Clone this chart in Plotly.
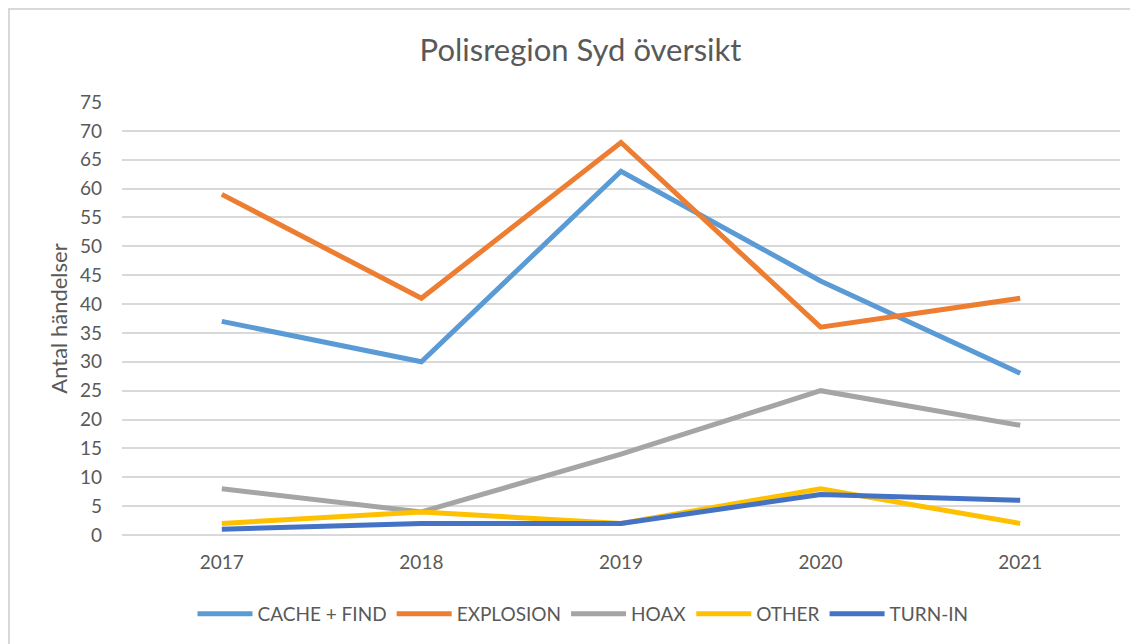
import plotly.graph_objects as go

years = ["2017", "2018", "2019", "2020", "2021"]
cache_find = [37, 30, 63, 44, 28]
explosion = [59, 41, 68, 36, 41]
hoax = [8, 4, 14, 25, 19]
other = [2, 4, 2, 8, 2]
turn_in = [1, 2, 2, 7, 6]

series = [
    ("CACHE + FIND", cache_find, "#5B9BD5"),
    ("EXPLOSION", explosion, "#ED7D31"),
    ("HOAX", hoax, "#A5A5A5"),
    ("OTHER", other, "#FFC000"),
    ("TURN-IN", turn_in, "#4472C4"),
]

fig = go.Figure()
for name, vals, col in series:
    fig.add_trace(go.Scatter(x=years, y=vals, name=name, mode="lines",
                             line=dict(color=col, width=5)))

font_family = "Lato, Open Sans, sans-serif"
W, H = 1138, 644
L, R, T, B = 114, 26, 94, 117
pw, ph = W - L - R, H - T - B
fig.update_layout(
    width=W, height=H,
    paper_bgcolor="white", plot_bgcolor="white",
    margin=dict(l=L, r=R, t=T, b=B, autoexpand=False),
    font=dict(family=font_family, color="#595959", size=19),
    title=dict(text="Polisregion Syd översikt", x=572.5 / W, xanchor="center",
               y=1 - 42 / H, yanchor="middle",
               font=dict(size=31, color="#595959", family=font_family)),
    xaxis=dict(type="category", range=[-0.5, 4.5], showgrid=False,
               showline=False, zeroline=False, ticks="", automargin=False,
               tickfont=dict(size=19, color="#595959"), ticklabelstandoff=14),
    yaxis=dict(range=[0, 75], dtick=5, tick0=0, showgrid=True,
               gridcolor="#D9D9D9", gridwidth=1.5, zeroline=True,
               zerolinecolor="#D9D9D9", zerolinewidth=1.5, showline=False,
               ticks="", tickfont=dict(size=19, color="#595959"),
               ticklabelstandoff=19, automargin=False,
               title=dict(text="Antal händelser", font=dict(size=22, color="#595959"),
                          standoff=6)),
    legend=dict(orientation="h", x=(575 - L) / pw, xanchor="center",
                yref="container", y=1 - 606 / H, yanchor="middle",
                font=dict(size=19, color="#595959"), itemwidth=55,
                tracegroupgap=0, bgcolor="rgba(0,0,0,0)"),
    shapes=[dict(type="rect", xref="paper", yref="paper",
                 x0=(1 - L) / pw, x1=(W + 20 - L) / pw,
                 y0=(T + ph - H - 20) / ph, y1=(T + ph - 1) / ph,
                 line=dict(color="#D9D9D9", width=2), fillcolor="rgba(0,0,0,0)",
                 layer="below")],
)

fig.write_html("out.html")
